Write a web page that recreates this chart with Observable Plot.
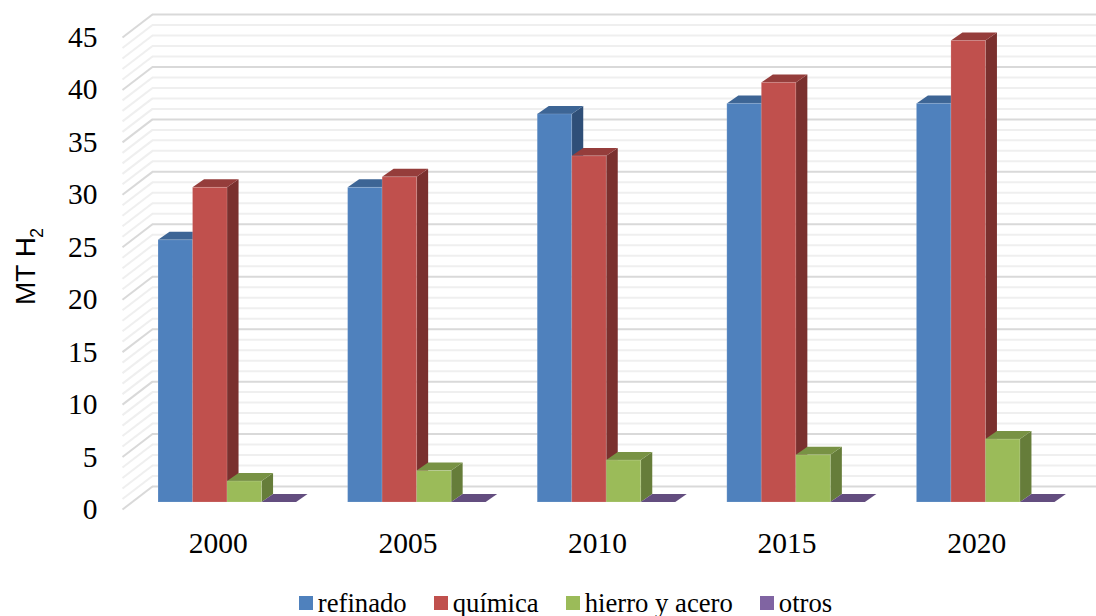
<!DOCTYPE html>
<html lang="es">
<head>
<meta charset="utf-8">
<title>Demanda de hidrógeno por sector</title>
<script src="https://cdn.jsdelivr.net/npm/d3@7"></script>
<script src="https://cdn.jsdelivr.net/npm/@observablehq/plot@0.6"></script>
<style>
  html, body { margin: 0; padding: 0; background: #fff; overflow: hidden; }
  #chart svg { display: block; }
  #legend {
    height: 26px; line-height: 26px;
    display: flex; justify-content: center; gap: 27px;
    font: 26.7px "Liberation Serif", serif; color: #000;
    padding-left: 35px;
  }
  #legend span.item { display: flex; align-items: center; gap: 5px; }
  #legend i { display: block; width: 14px; height: 14px; }
</style>
</head>
<body>
<div id="chart"></div>
<div id="legend"></div>
<script>
// Hydrogen demand by sector, in megatonnes
const years = ["2000", "2005", "2010", "2015", "2020"];
const refinado = [25, 30, 37, 38, 38];
const quimica = [30, 31, 33, 40, 44];
const hierro = [2, 3, 4, 4.5, 6];
const otros = [0, 0, 0, 0, 0];

const seriesNames = ["refinado", "química", "hierro y acero", "otros"];
const seriesValues = [refinado, quimica, hierro, otros];
const frontColors = ["#4f81bd", "#c0504d", "#9bbb59", "#8064a2"];
const topColors = ["#3d6595", "#953d3b", "#789244", "#634d7f"];
const sideColors = ["#2f4f78", "#7a302e", "#667d3a", "#54416c"];

// Oblique projection, expressed in scale units: x in category slots, y in MT
const wallDx = 0.158, wallDy = 2.19;    // depth of the floor and side wall
const barStart = 0.19, barWidth = 0.182; // first bar's offset and bar width in a slot
const barDx = 0.0607, barDy = 0.76;     // depth of each bar
const barBase = 0.667;                  // lift of the bars' front edge above the floor edge

const yTicks = d3.range(0, 46);
const isMajor = (v) => v % 5 === 0;

// Wall and floor lines, one per MT; every fifth one is heavier
function wallLines(values, stroke, strokeWidth) {
  return [
    Plot.ruleY(values, {y: (v) => v + wallDy, x1: wallDx, x2: 5 + wallDx, stroke, strokeWidth}),
    Plot.link(values, {x1: 0, y1: (v) => v, x2: wallDx, y2: (v) => v + wallDy, stroke, strokeWidth})
  ];
}

// One bar in painter's order: side face, top face, then the front
function barMarks(slot, s) {
  const v = seriesValues[s][slot];
  const left = slot + barStart + s * barWidth;
  const right = left + barWidth;
  const top = barBase + v;
  const side = [
    {x: right, y1: barBase, y2: top},
    {x: right + barDx, y1: barBase + barDy, y2: top + barDy}
  ];
  const lid = [
    {x: left, y1: top, y2: top},
    {x: left + barDx, y1: top, y2: top + barDy},
    {x: right, y1: top, y2: top + barDy},
    {x: right + barDx, y1: top + barDy, y2: top + barDy}
  ];
  const marks = [
    Plot.area(side, {x1: "x", y1: "y1", y2: "y2", fill: sideColors[s]}),
    Plot.area(lid, {x1: "x", y1: "y1", y2: "y2", fill: topColors[s]})
  ];
  if (v > 0) {
    marks.push(Plot.rect([v], {
      x1: left, x2: right, y1: barBase, y2: top,
      fill: frontColors[s], inset: 0,
      stroke: "#fff", strokeOpacity: 0.15, strokeWidth: 1
    }));
  }
  return marks;
}

const bars = years.flatMap((_, slot) => seriesValues.flatMap((_, s) => barMarks(slot, s)));

// Rotated axis title, with the subscript set as its own smaller text
const titleFont = {
  frameAnchor: "left",
  lineAnchor: "bottom",
  textAnchor: "start",
  rotate: -90,
  fontFamily: "'Liberation Sans', sans-serif",
  fill: "#000"
};

const chart = Plot.plot({
  width: 1096,
  height: 590,
  marginLeft: 122,
  marginRight: 0,
  marginTop: 14,
  marginBottom: 81,
  style: {fontFamily: "'Liberation Serif', serif", color: "#000", background: "#fff"},
  x: {domain: [0, 5], range: [122, 1070], axis: null},
  y: {domain: [0, 45 + wallDy], range: [509, 14], axis: null},
  marks: [
    ...wallLines(yTicks.filter((v) => !isMajor(v)), "#efefef", 2),
    ...wallLines(yTicks.filter(isMajor), "#d9d9d9", 2),
    ...bars,
    Plot.axisY({
      ticks: d3.range(0, 46, 5),
      tickSize: 0,
      tickPadding: 25,
      fontSize: 29.5,
      label: null
    }),
    Plot.axisX({
      ticks: years.map((_, i) => i + 0.5),
      tickFormat: (d) => years[d - 0.5],
      tickSize: 0,
      tickPadding: 23,
      dx: 1,
      fontSize: 29.5,
      label: null
    }),
    Plot.text(["MT H"], {...titleFont, dx: -88, dy: 43, fontSize: 28}),
    Plot.text(["2"], {...titleFont, dx: -80, dy: -24, fontSize: 18})
  ]
});
document.getElementById("chart").append(chart);

// Legend row under the plot
const legend = d3.select("#legend");
seriesNames.forEach((name, i) => {
  const item = legend.append("span").attr("class", "item");
  item.append("i").style("background", frontColors[i]);
  item.append("span").text(name);
});
</script>
</body>
</html>
